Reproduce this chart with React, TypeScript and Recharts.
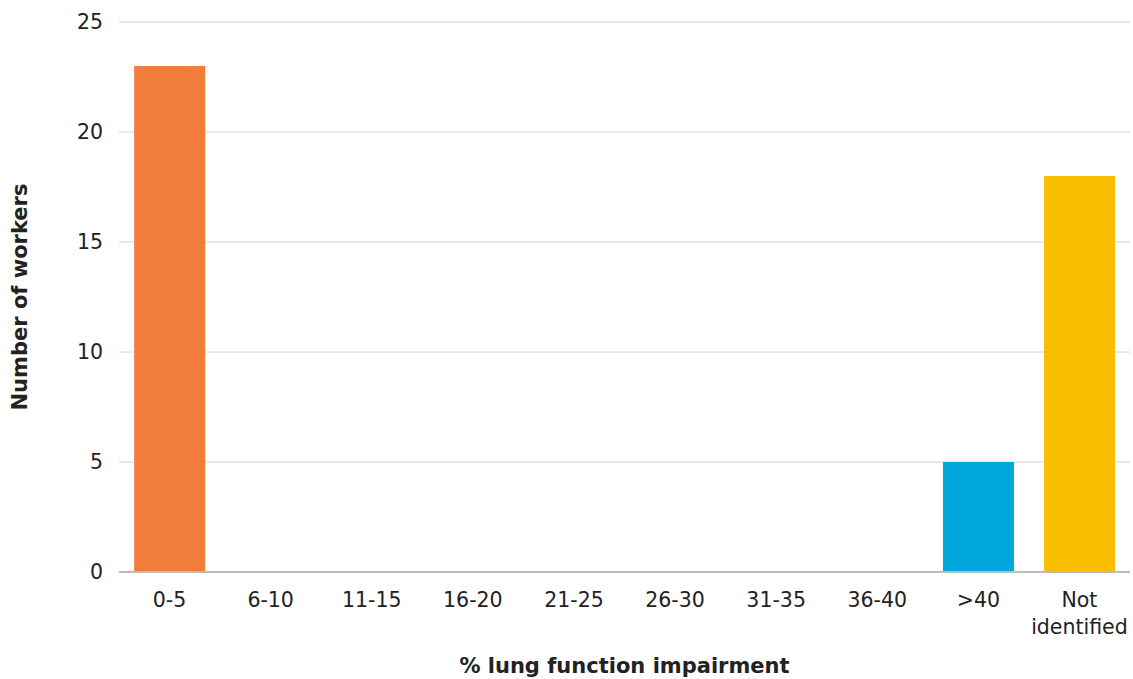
import { BarChart, Bar, XAxis, YAxis, CartesianGrid, Cell, Label } from "recharts";

const categories = ["0-5", "6-10", "11-15", "16-20", "21-25", "26-30", "31-35", "36-40", ">40", "Not identified"];
const workers = [23, 0, 0, 0, 0, 0, 0, 0, 5, 18];
const barColors = ["#F07D3B", "#F07D3B", "#F07D3B", "#F07D3B", "#F07D3B", "#F07D3B", "#F07D3B", "#F07D3B", "#00A7DC", "#F7BF00"];
const yTicks = [0, 5, 10, 15, 20, 25];

const data = categories.map((c, i) => ({ name: c, value: workers[i] }));

const FONT = "'DejaVu Sans', sans-serif";

const XTick = ({ x, y, payload }: any) => {
  const words: string[] = payload.value === "Not identified" ? ["Not", "identified"] : [payload.value];
  return (
    <text x={x} y={y} textAnchor="middle" fill="#222" fontSize={20.5} fontFamily={FONT}>
      {words.map((w, i) => (
        <tspan key={i} x={x} dy={i === 0 ? 27 : 27}>{w}</tspan>
      ))}
    </text>
  );
};

export default function App() {
  return (
    <div style={{ position: "absolute", left: 0, top: 0, width: 1133, height: 679, background: "#fff" }}>
      <BarChart
        width={1133}
        height={679}
        data={data}
        barCategoryGap="15%"
        margin={{ top: 22, right: 3, left: 0, bottom: 0 }}
      >
        <CartesianGrid vertical={false} stroke="#d4d4d4" strokeWidth={1} />
        <XAxis
          dataKey="name"
          interval={0}
          tick={<XTick />}
          tickLine={false}
          axisLine={{ stroke: "#bcbcbc", strokeWidth: 2 }}
          height={107}
        >
          <Label
            value="% lung function impairment"
            position="insideBottom"
            offset={6}
            style={{ fontFamily: FONT, fontSize: 21, fontWeight: 700, fill: "#222" }}
          />
        </XAxis>
        <YAxis
          domain={[0, 25]}
          ticks={yTicks}
          width={119}
          tickLine={false}
          axisLine={false}
          tickSize={0}
          tickMargin={16}
          tick={{ fill: "#222", fontSize: 20.5, fontFamily: FONT }}
        >
          <Label
            value="Number of workers"
            angle={-90}
            position="insideLeft"
            offset={20}
            style={{ textAnchor: "middle", fontFamily: FONT, fontSize: 21, fontWeight: 700, fill: "#222" }}
          />
        </YAxis>
        <Bar dataKey="value" isAnimationActive={false}>
          {data.map((d, i) => (
            <Cell key={d.name} fill={barColors[i]} />
          ))}
        </Bar>
      </BarChart>
    </div>
  );
}
